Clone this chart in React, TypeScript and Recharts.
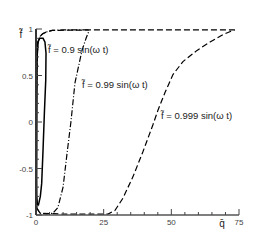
import { LineChart, Line, XAxis, YAxis } from "recharts";

// f~ = 0.9 sin(wt) loop
const q09 = [0.85, 1.6, 2.1, 2.6, 3.1, 3.6, 3.7, 3.3, 2.6, 1.4, 0.6, 0.4, 0.35, 0.3, 0.25, 0.3, 0.5, 0.85];
const f09 = [-0.9, -0.8, -0.66, -0.3, 0.1, 0.45, 0.74, 0.86, 0.9, 0.9, 0.85, 0.7, 0.3, -0.2, -0.6, -0.8, -0.88, -0.9];

// f~ = 0.99 sin(wt) loop
const q099 = [19.3, 15, 10, 6, 4, 2.5, 1.5, 0.8, 0.3, 0.1, 0.1, 0.4, 1.5, 4, 6.3, 8.1, 10, 11.5, 12.9, 14.4, 17, 18.5, 19.3, 19.5, 19.3];
const f099 = [0.99, 0.99, 0.99, 0.985, 0.97, 0.95, 0.92, 0.87, 0.6, 0, -0.8, -0.93, -0.98, -0.99, -0.98, -0.92, -0.7, -0.33, 0, 0.42, 0.77, 0.9, 0.96, 0.985, 0.99];

// f~ = 0.999 sin(wt) loop
const q0999 = [73.5, 50, 20, 6, 4, 2.5, 1.5, 0.8, 0.3, 0.1, 0.1, 0.4, 1.5, 10, 26.6, 29.2, 32.1, 35.8, 39.5, 43.2, 45.1, 47.7, 50.6, 54.3, 59.5, 64.3, 69.1, 72.4, 73.5];
const f0999 = [0.99, 0.99, 0.99, 0.985, 0.97, 0.95, 0.92, 0.87, 0.6, 0, -0.8, -0.93, -0.98, -0.99, -0.99, -0.95, -0.82, -0.59, -0.32, -0.03, 0.13, 0.32, 0.51, 0.65, 0.77, 0.86, 0.94, 0.98, 0.99];

const xTicks = [0, 5, 10, 15, 20, 25, 30, 35, 40, 45, 50, 55, 60, 65, 70, 75];
const xLabels = ["0", "25", "50", "75"];
const yTicks = [-1, -0.9, -0.8, -0.7, -0.6, -0.5, -0.4, -0.3, -0.2, -0.1, 0, 0.1, 0.2, 0.3, 0.4, 0.5, 0.6, 0.7, 0.8, 0.9, 1];
const yLabels = ["-1", "-0.5", "0", "0.5", "1"];

const zip = (qs: number[], fs: number[]) => qs.map((q, i) => ({ q, f: fs[i] }));

const font = "'Liberation Sans', Arial, sans-serif";

function XTick(props: any) {
  const { x, y, payload } = props;
  const label = String(payload.value);
  const major = xLabels.includes(label);
  return (
    <g>
      <line x1={x} x2={x} y1={y} y2={y - (major ? 6 : 3)} stroke="#444" strokeWidth={1} />
      {major && (
        <text x={x} y={y + 10} textAnchor="middle" fontSize={8} fill="#444" fontFamily={font}>
          {label}
        </text>
      )}
    </g>
  );
}

function YTick(props: any) {
  const { x, y, payload } = props;
  const label = String(Math.round(payload.value * 10) / 10);
  const major = yLabels.includes(label);
  return (
    <g>
      <line x1={x} x2={x + (major ? 6 : 3)} y1={y} y2={y} stroke="#444" strokeWidth={1} />
      {major && (
        <text x={x - 3} y={y + 3} textAnchor="end" fontSize={8} fill="#444" fontFamily={font}>
          {label}
        </text>
      )}
    </g>
  );
}

export default function App() {
  return (
    <div style={{ position: "relative", width: 273, height: 242, background: "#fff" }}>
      <style>{`body{margin:0}`}</style>
      <LineChart width={273} height={242} margin={{ top: 29, right: 34, left: 0, bottom: 0 }}>
        <XAxis
          type="number"
          dataKey="q"
          domain={[0, 75]}
          ticks={xTicks}
          interval={0}
          tick={<XTick />}
          tickLine={false}
          tickSize={0}
          tickMargin={0}
          height={27}
          axisLine={{ stroke: "#555", strokeWidth: 1.5 }}
        />
        <YAxis
          type="number"
          dataKey="f"
          domain={[-1, 1]}
          ticks={yTicks}
          interval={0}
          tick={<YTick />}
          tickLine={false}
          tickSize={0}
          tickMargin={0}
          width={36}
          axisLine={{ stroke: "#333", strokeWidth: 2 }}
        />
        <Line data={zip(q0999, f0999)} dataKey="f" type="linear" stroke="#000" strokeWidth={1.2} strokeDasharray="6 3" dot={false} isAnimationActive={false} />
        <Line data={zip(q099, f099)} dataKey="f" type="linear" stroke="#000" strokeWidth={1.2} strokeDasharray="6 2 1 2" dot={false} isAnimationActive={false} />
        <Line data={zip(q09, f09)} dataKey="f" type="linear" stroke="#000" strokeWidth={1.5} dot={false} isAnimationActive={false} />
      </LineChart>
      <svg width={273} height={242} style={{ position: "absolute", left: 0, top: 0, pointerEvents: "none" }}>
        <g fontFamily={font} fill="#222">
          <text x={48} y={53} fontSize={9.5}>f̃ = 0.9 sin(ω t)</text>
          <text x={82} y={88} fontSize={9.5}>f̃ = 0.99 sin(ω t)</text>
          <text x={161} y={119} fontSize={9.5}>f̃ = 0.999 sin(ω t)</text>
          <text x={21} y={38} fontSize={10} textAnchor="middle">f̃</text>
          <text x={222} y={227} fontSize={10} textAnchor="middle">q̄</text>
        </g>
      </svg>
    </div>
  );
}
